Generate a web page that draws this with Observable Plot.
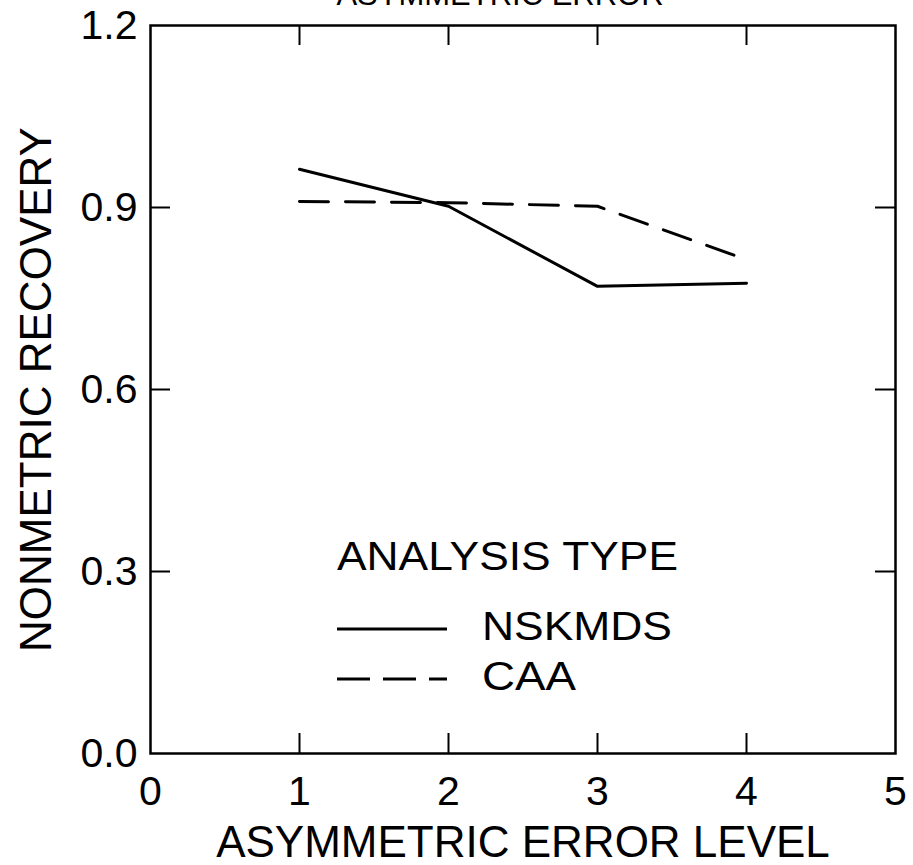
<!DOCTYPE html>
<html>
<head>
<meta charset="utf-8">
<script src="https://cdn.jsdelivr.net/npm/d3@7"></script>
<script src="https://cdn.jsdelivr.net/npm/@observablehq/plot@0.6"></script>
<style>
  body { margin: 0; background: #fff; }
  #wrap { position: relative; width: 913px; height: 865px; overflow: hidden; }
  #wrap > svg { display: block; }
  #legend { position: absolute; left: 0; top: 0; pointer-events: none; }
</style>
</head>
<body>
<div id="wrap"></div>
<script>
// Asymmetric error level vs. nonmetric recovery, per analysis type
const levels = [1, 2, 3, 4];
const nskmds = [0.963, 0.902, 0.770, 0.775];
const caa = [0.910, 0.908, 0.902, 0.814];
const analysisTypes = ["NSKMDS", "CAA"];
const xTickLabels = [0, 1, 2, 3, 4, 5];
const yTickLabels = [0.0, 0.3, 0.6, 0.9, 1.2];
const xInnerTicks = [1, 2, 3, 4];
const yInnerTicks = [0.3, 0.6, 0.9];
const titleText = "ASYMMETRIC ERROR";
const xTitle = "ASYMMETRIC ERROR LEVEL";
const yTitle = "NONMETRIC RECOVERY";
const legendTitle = "ANALYSIS TYPE";

const rows = [
  ...levels.map((level, i) => ({level, recovery: nskmds[i], type: analysisTypes[0]})),
  ...levels.map((level, i) => ({level, recovery: caa[i], type: analysisTypes[1]}))
];

const font = "'Liberation Sans', Arial, Helvetica, sans-serif";
const dash = "29,17";

// plot geometry
const W = 913, H = 865;
const mL = 150, mR = 18, mT = 25, mB = 112;
const innerW = W - mL - mR, innerH = H - mT - mB;
const tickLen = 20;

const chart = Plot.plot({
  width: W,
  height: H,
  marginLeft: mL,
  marginRight: mR,
  marginTop: mT,
  marginBottom: mB,
  style: {fontFamily: font, background: "#fff", color: "#000", overflow: "visible"},
  x: {domain: [0, 5], axis: null},
  y: {domain: [0, 1.2], axis: null},
  marks: [
    Plot.line(rows.filter(d => d.type === "NSKMDS"), {x: "level", y: "recovery", stroke: "#000", strokeWidth: 3}),
    Plot.line(rows.filter(d => d.type === "CAA"), {x: "level", y: "recovery", stroke: "#000", strokeWidth: 3, strokeDasharray: dash}),
    Plot.frame({stroke: "#000", strokeWidth: 2.5}),
    // inward ticks on all four sides
    Plot.tickX(xInnerTicks, {x: d => d, insetTop: innerH - tickLen, stroke: "#000", strokeWidth: 2}),
    Plot.tickX(xInnerTicks, {x: d => d, insetBottom: innerH - tickLen, stroke: "#000", strokeWidth: 2}),
    Plot.tickY(yInnerTicks, {y: d => d, insetRight: innerW - tickLen, stroke: "#000", strokeWidth: 2}),
    Plot.tickY(yInnerTicks, {y: d => d, insetLeft: innerW - tickLen, stroke: "#000", strokeWidth: 2}),
    // tick labels
    Plot.axisX(xTickLabels, {anchor: "bottom", tickSize: 0, tickPadding: 22, fontSize: 41, label: null, tickFormat: d => String(d)}),
    Plot.axisY(yTickLabels, {anchor: "left", tickSize: 0, tickPadding: 13, fontSize: 41, label: null, tickFormat: d => d.toFixed(1)}),
    // titles
    Plot.text([xTitle], {frameAnchor: "bottom", dy: 103, lineAnchor: "bottom", textAnchor: "middle", fontSize: 44, fill: "#000"}),
    Plot.text([yTitle], {frameAnchor: "left", dx: -114, rotate: -90, textAnchor: "middle", lineAnchor: "middle", fontSize: 44, fill: "#000"}),
    Plot.text([titleText], {frameAnchor: "top", dx: -23, dy: -21, lineAnchor: "bottom", textAnchor: "middle", fontSize: 31, fill: "#000"})
  ]
});

const wrap = document.getElementById("wrap");
wrap.appendChild(chart);

// legend block drawn over the plot area
const legend = d3.select(wrap).append("svg")
  .attr("id", "legend")
  .attr("width", W)
  .attr("height", H)
  .style("font-family", font);

legend.append("text")
  .attr("x", 337).attr("y", 570)
  .attr("font-size", 40)
  .attr("textLength", 341).attr("lengthAdjust", "spacingAndGlyphs")
  .text(legendTitle);

const entries = [
  {name: analysisTypes[0], lineY: 629, textY: 640, textLength: 190, dasharray: null},
  {name: analysisTypes[1], lineY: 679, textY: 690, textLength: 94, dasharray: "33,13"}
];

for (const e of entries) {
  legend.append("line")
    .attr("x1", 337).attr("x2", 447)
    .attr("y1", e.lineY).attr("y2", e.lineY)
    .attr("stroke", "#000").attr("stroke-width", 3)
    .attr("stroke-dasharray", e.dasharray);
  legend.append("text")
    .attr("x", 482).attr("y", e.textY)
    .attr("font-size", 40)
    .attr("textLength", e.textLength).attr("lengthAdjust", "spacingAndGlyphs")
    .text(e.name);
}
</script>
</body>
</html>
